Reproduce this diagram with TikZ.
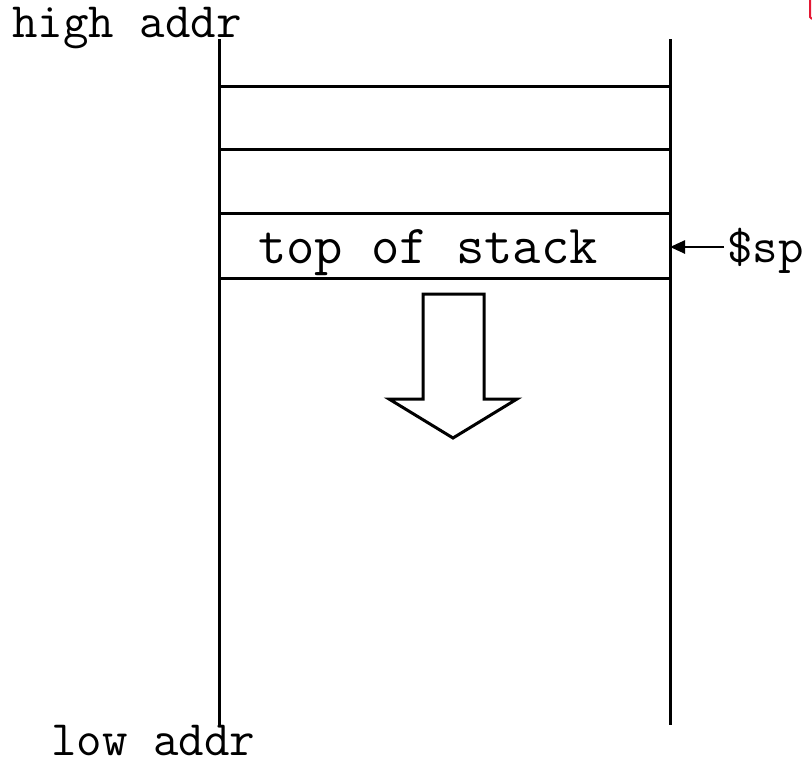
\documentclass[tikz,border=0pt]{standalone}
\usepackage{fontspec}
\usetikzlibrary{arrows.meta}
\definecolor{markred}{RGB}{228,24,52}
\begin{document}
\begin{tikzpicture}[x=1pt,y=-1pt,line width=3pt,
  addr/.style={font=\ttfamily\fontsize{49.5}{49.5}\selectfont,inner sep=0pt,anchor=base west},
  slot/.style={font=\ttfamily\fontsize{55}{55}\selectfont,inner sep=0pt,anchor=base},
  spptr/.style={line width=2.5pt,-{Triangle[length=15pt,width=13pt]}}]
\useasboundingbox (0,0) rectangle (812,761);
\coordinate (lt) at (219,39);
\coordinate (lb) at (219,725);
\coordinate (rt) at (670,39);
\coordinate (rb) at (670,725);
\draw (lt) -- (lb);
\draw (rt) -- (rb);
\foreach \y in {86,149,213,278}
  \draw (lt |- 0,\y) -- (rt |- 0,\y);
\node[addr] (high) at (11,37) {high addr};
\node[addr] (low) at (50,755) {low addr};
\node[slot] (tos) at (428,263) {top of stack};
\node[addr,inner xsep=2pt] (sp) at (724,262) {\$sp};
\coordinate (spin) at (670,247);
\draw[spptr] (sp.west |- spin) -- (spin);
\draw[line join=miter] (423,294) -- (484,294) -- (484,399) -- (517,399)
  -- (453,438) -- (389,399) -- (423,399) -- cycle;
\draw[markred,line width=2pt] (810,0) -- (810,17) -- (812,19);
\end{tikzpicture}
\end{document}
